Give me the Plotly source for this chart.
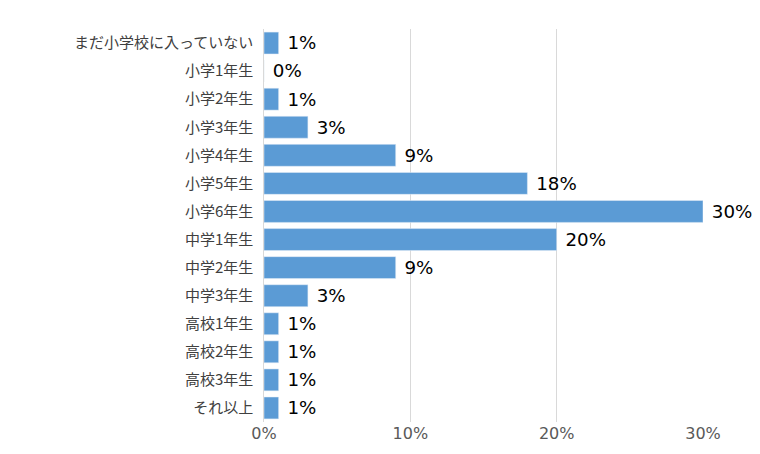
import plotly.graph_objects as go

categories = ['まだ小学校に入っていない', '小学1年生', '小学2年生', '小学3年生', '小学4年生',
              '小学5年生', '小学6年生', '中学1年生', '中学2年生', '中学3年生',
              '高校1年生', '高校2年生', '高校3年生', 'それ以上']
values = [0.01, 0.0, 0.01, 0.03, 0.09, 0.18, 0.30, 0.20, 0.09, 0.03, 0.01, 0.01, 0.01, 0.01]
labels = [f' {round(v * 100)}%' for v in values]

fig = go.Figure(go.Bar(
    x=values, y=categories, orientation='h',
    marker=dict(color='#5B9BD5'),
    text=labels, textposition='outside', cliponaxis=False,
    textfont=dict(size=20, color='#000000', family='DejaVu Sans'),
))
fig.update_layout(
    width=760, height=454,
    margin=dict(l=256, r=65, t=21, b=40),
    plot_bgcolor='white', paper_bgcolor='white',
    font=dict(family='Noto Sans CJK JP', color='#404040'),
    bargap=0.22, showlegend=False,
)
fig.update_xaxes(range=[0, 0.30], tickvals=[0, 0.1, 0.2, 0.3], ticktext=['0%', '10%', '20%', '30%'],
                 showgrid=True, gridcolor='#d9d9d9', gridwidth=1, zeroline=False, automargin=False,
                 tickfont=dict(size=16, color='#595959', family='DejaVu Sans'), ticks='')
fig.update_yaxes(autorange='reversed', showline=True, linecolor='#d9d9d9', linewidth=1, automargin=False,
                 tickfont=dict(size=15, color='#404040'), ticks='', ticksuffix='  ')
fig.write_html('out.html')
